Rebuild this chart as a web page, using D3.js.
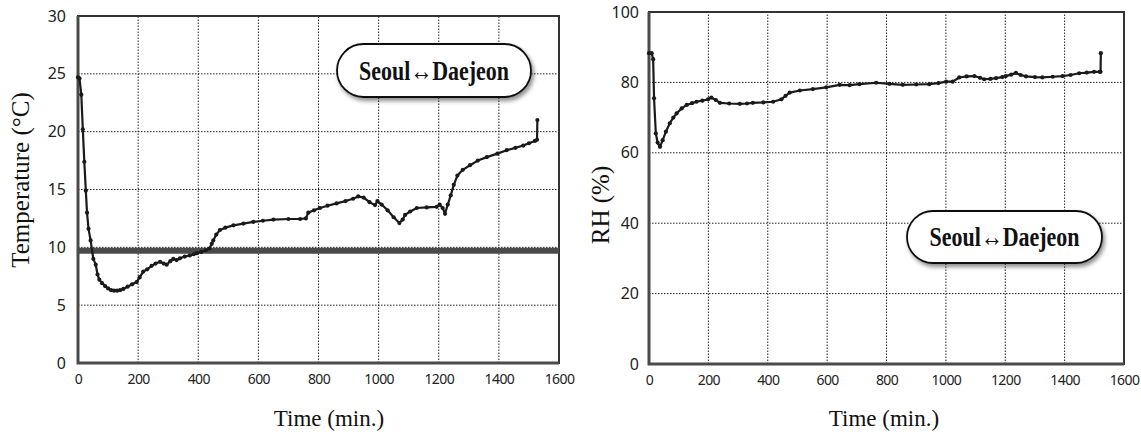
<!DOCTYPE html>
<html>
<head>
<meta charset="utf-8">
<script src="https://cdn.jsdelivr.net/npm/d3@7"></script>
<style>
  body { margin: 0; background: #fff; }
  .tick text { fill: #222; }
</style>
</head>
<body>
<svg id="chart" width="1141" height="435"></svg>
<script>
// readings taken off the figure
const tempTime = [0, 5, 11, 16, 21, 26, 30, 35, 42, 51, 59, 65, 71, 80, 90, 100, 110, 120, 130, 140, 151, 165, 180, 195, 205, 217, 230, 245, 258, 273, 285, 295, 307, 317, 328, 339, 355, 372, 385, 395, 410, 425, 437, 445, 450, 460, 472, 490, 517, 550, 583, 615, 650, 700, 739, 758, 766, 785, 805, 830, 860, 890, 915, 932, 950, 970, 988, 996, 1010, 1030, 1050, 1069, 1080, 1088, 1105, 1127, 1160, 1193, 1203, 1213, 1221, 1230, 1240, 1250, 1262, 1280, 1304, 1330, 1360, 1395, 1426, 1455, 1481, 1500, 1520, 1527, 1528];
const tempValue = [24.7, 24.6, 23.2, 20.2, 17.4, 14.9, 13.0, 11.6, 10.6, 9.0, 8.5, 7.65, 7.2, 6.9, 6.65, 6.45, 6.3, 6.25, 6.25, 6.3, 6.4, 6.6, 6.8, 7.0, 7.4, 7.9, 8.1, 8.4, 8.6, 8.75, 8.6, 8.5, 8.8, 9.0, 8.9, 9.05, 9.2, 9.3, 9.4, 9.5, 9.6, 9.75, 9.9, 10.3, 10.6, 11.1, 11.5, 11.7, 11.9, 12.05, 12.2, 12.3, 12.4, 12.45, 12.45, 12.5, 13.0, 13.2, 13.4, 13.6, 13.8, 14.0, 14.2, 14.4, 14.3, 13.9, 13.65, 14.0, 13.7, 13.2, 12.6, 12.1, 12.4, 12.8, 13.1, 13.4, 13.45, 13.5, 13.7, 13.4, 12.9, 13.7, 14.5, 15.4, 16.2, 16.7, 17.1, 17.5, 17.8, 18.1, 18.4, 18.6, 18.8, 19.0, 19.2, 19.3, 21.0];
const tempLimit = 9.7;

const rhTime = [0, 9, 14, 17, 23, 29, 37, 46, 57, 70, 82, 93, 110, 127, 145, 160, 180, 199, 210, 225, 239, 270, 306, 330, 350, 385, 418, 446, 460, 474, 508, 552, 597, 642, 676, 709, 765, 810, 855, 900, 944, 975, 1001, 1023, 1045, 1070, 1096, 1115, 1129, 1150, 1169, 1190, 1202, 1220, 1236, 1252, 1270, 1300, 1325, 1360, 1393, 1420, 1449, 1475, 1499, 1518, 1521, 1522];
const rhValue = [88.3, 88.3, 86.6, 75.5, 65.5, 62.9, 61.7, 63.6, 66, 68.4, 70, 71.2, 72.6, 73.6, 74.1, 74.5, 74.8, 75.2, 75.7, 75, 74.2, 74.0, 73.9, 74.0, 74.2, 74.3, 74.5, 75.2, 76.2, 77.1, 77.7, 78.1, 78.6, 79.3, 79.2, 79.5, 79.9, 79.6, 79.3, 79.4, 79.5, 79.8, 80.2, 80.2, 81.4, 81.7, 81.8, 81.3, 80.9, 81.0, 81.2, 81.5, 81.8, 82.2, 82.7, 82.1, 81.7, 81.5, 81.4, 81.6, 81.8, 82.1, 82.6, 82.8, 83.0, 83.0, 83.0, 88.3];

const timeTicks = [0, 200, 400, 600, 800, 1000, 1200, 1400, 1600];
const tempTicks = [0, 5, 10, 15, 20, 25, 30];
const rhTicks = [0, 20, 40, 60, 80, 100];
const routeLabel = "Seoul\u2194Daejeon";

const svg = d3.select("#chart");

const defs = svg.append("defs");
defs.append("filter").attr("id", "shadow")
  .attr("x", "-20%").attr("y", "-30%").attr("width", "140%").attr("height", "170%")
  .append("feDropShadow")
  .attr("dx", 2).attr("dy", 3).attr("stdDeviation", 2)
  .attr("flood-color", "#000").attr("flood-opacity", 0.45);

const serif = "'Liberation Serif', 'Times New Roman', serif";

function drawPanel(cfg) {
  const x = d3.scaleLinear().domain([0, 1600]).range(cfg.xRange);
  const y = d3.scaleLinear().domain(cfg.yDomain).range(cfg.yRange);
  const g = svg.append("g");

  // grid
  g.append("g").selectAll("line")
    .data(timeTicks.slice(1, -1))
    .join("line")
    .attr("x1", d => x(d)).attr("x2", d => x(d))
    .attr("y1", y.range()[0]).attr("y2", y.range()[1])
    .attr("stroke", "#222").attr("stroke-width", 1)
    .attr("stroke-dasharray", "1.5,1.5");
  g.append("g").selectAll("line")
    .data(cfg.yTicks.slice(1, -1))
    .join("line")
    .attr("x1", x.range()[0]).attr("x2", x.range()[1])
    .attr("y1", d => y(d)).attr("y2", d => y(d))
    .attr("stroke", "#222").attr("stroke-width", 1)
    .attr("stroke-dasharray", "1.5,1.5");

  // frame
  g.append("rect")
    .attr("x", x(0)).attr("y", y(cfg.yDomain[1]))
    .attr("width", x(1600) - x(0)).attr("height", y(cfg.yDomain[0]) - y(cfg.yDomain[1]))
    .attr("fill", "none").attr("stroke", "#333").attr("stroke-width", 2);

  const xAxis = g.append("g")
    .attr("transform", "translate(0," + y(cfg.yDomain[0]) + ")")
    .call(d3.axisBottom(x).tickValues(timeTicks).tickSize(0).tickPadding(11).tickFormat(d3.format("d")));
  xAxis.select(".domain").remove();
  xAxis.selectAll("text")
    .style("font-family", "'Noto Sans', sans-serif")
    .style("font-size", "14px")
    .style("letter-spacing", "-0.6px");

  const yAxis = g.append("g")
    .attr("transform", "translate(" + x(0) + ",0)")
    .call(d3.axisLeft(y).tickValues(cfg.yTicks).tickSize(0).tickPadding(cfg.yPad));
  yAxis.select(".domain").remove();
  yAxis.selectAll("text")
    .style("font-family", "'Noto Sans', sans-serif")
    .style("font-size", "16px");

  // left and bottom axis lines
  g.append("path")
    .attr("d", "M" + x(0) + "," + y(cfg.yDomain[1]) + "V" + y(cfg.yDomain[0]) + "H" + x(1600))
    .attr("fill", "none").attr("stroke", "#4a4a4a").attr("stroke-width", 3);

  if (cfg.limit !== undefined) {
    g.append("line")
      .attr("x1", x(0)).attr("x2", x(1600))
      .attr("y1", y(cfg.limit)).attr("y2", y(cfg.limit))
      .attr("stroke", "#4a4a4a").attr("stroke-width", 6);
  }

  const pts = cfg.times.map((t, i) => [t, cfg.values[i]]);
  g.append("path")
    .datum(pts)
    .attr("fill", "none").attr("stroke", "#1a1a1a").attr("stroke-width", 2.2)
    .attr("stroke-linejoin", "round")
    .attr("d", d3.line().x(d => x(d[0])).y(d => y(d[1])));
  g.selectAll("circle.pt")
    .data(pts)
    .join("circle")
    .attr("class", "pt")
    .attr("cx", d => x(d[0])).attr("cy", d => y(d[1]))
    .attr("r", 2.1).attr("fill", "#1a1a1a");

  // route badge
  const b = cfg.badge;
  g.append("rect")
    .attr("x", b.x).attr("y", b.y).attr("width", b.w).attr("height", b.h)
    .attr("rx", b.h / 2).attr("ry", b.h / 2)
    .attr("fill", "#fff").attr("stroke", "#111").attr("stroke-width", 1.8)
    .attr("filter", "url(#shadow)");
  g.append("text")
    .attr("x", b.x + b.w / 2).attr("y", b.y + b.h / 2 + 9)
    .attr("text-anchor", "middle")
    .attr("textLength", 150).attr("lengthAdjust", "spacingAndGlyphs")
    .style("font-family", serif)
    .style("font-weight", "bold").style("font-size", "27px")
    .attr("fill", "#111")
    .text(routeLabel);

  // titles
  g.append("text")
    .attr("x", cfg.xTitle[0]).attr("y", cfg.xTitle[1])
    .attr("text-anchor", "middle")
    .style("font-family", serif)
    .style("font-size", "23px").attr("fill", "#111")
    .text("Time (min.)");
  g.append("text")
    .attr("transform", "translate(" + cfg.yTitle[0] + "," + cfg.yTitle[1] + ") rotate(-90)")
    .attr("text-anchor", "middle").attr("dy", "0.35em")
    .style("font-family", serif)
    .style("font-size", "25px").attr("fill", "#111")
    .text(cfg.yLabel);
}

drawPanel({
  xRange: [78, 559], yRange: [363, 16], yDomain: [0, 30], yTicks: tempTicks, yPad: 12,
  times: tempTime, values: tempValue, limit: tempLimit,
  badge: {x: 337, y: 44, w: 194, h: 53},
  xTitle: [329, 426], yTitle: [20, 180], yLabel: "Temperature (\u00B0C)"
});

drawPanel({
  xRange: [649, 1124], yRange: [364, 12], yDomain: [0, 100], yTicks: rhTicks, yPad: 10,
  times: rhTime, values: rhValue,
  badge: {x: 907, y: 211, w: 195, h: 52},
  xTitle: [884, 426], yTitle: [600, 205], yLabel: "RH (%)"
});
</script>
</body>
</html>
